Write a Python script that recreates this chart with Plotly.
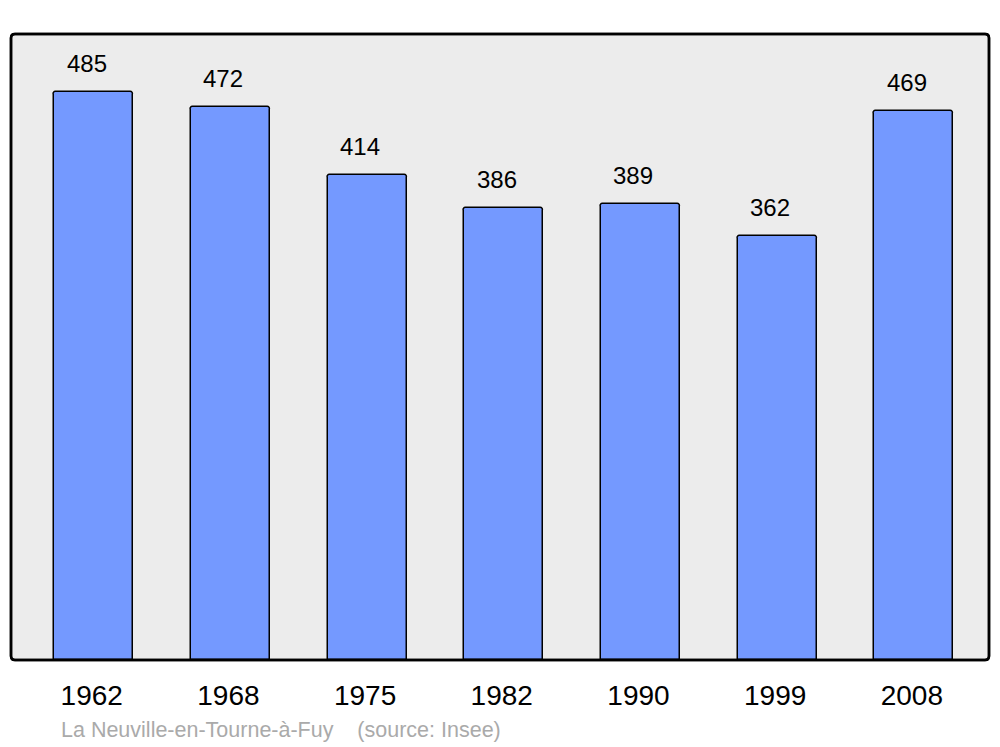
import plotly.graph_objects as go

years = ["1962", "1968", "1975", "1982", "1990", "1999", "2008"]
population = [485, 472, 414, 386, 389, 362, 469]
source_text = "La Neuville-en-Tourne-à-Fuy    (source: Insee)"

W, H = 1000, 747
ml, mr, mt, mb = 11, 11, 34, 87
pw, ph = W - ml - mr, H - mt - mb

xs = list(range(len(years)))

fig = go.Figure()
fig.add_trace(go.Bar(
    x=xs, y=population, width=0.578,
    marker=dict(color="#7499ff", line=dict(color="black", width=1.5), cornerradius=3),
    hoverinfo="skip",
))

for x, v in zip(xs, population):
    fig.add_annotation(x=x, y=v, text=str(v), showarrow=False, yanchor="bottom",
                       yshift=13, xshift=-7,
                       font=dict(size=24, color="black",
                                 family="Liberation Sans, Arial, sans-serif"))

fig.add_annotation(x=(59 - ml) / pw, y=(mt + ph - 730) / ph, xref="paper", yref="paper",
                   text=source_text.replace("    ", "&nbsp;&nbsp;&nbsp;&nbsp;"),
                   showarrow=False, xanchor="left", yanchor="middle",
                   font=dict(size=21.5, color="#aaaaaa",
                             family="Liberation Sans, Arial, sans-serif"))

# rounded plot-area frame
rx, ry = 4 / pw, 4 / ph
path = (f"M {rx},0 L {1-rx},0 Q 1,0 1,{ry} L 1,{1-ry} Q 1,1 {1-rx},1 "
        f"L {rx},1 Q 0,1 0,{1-ry} L 0,{ry} Q 0,0 {rx},0 Z")
fig.add_shape(type="path", path=path, xref="paper", yref="paper",
              fillcolor="#ececec", line=dict(color="black", width=2.5), layer="below")
fig.add_shape(type="path", path=path, xref="paper", yref="paper",
              fillcolor="rgba(0,0,0,0)", line=dict(color="black", width=2.5), layer="above")

fig.update_layout(
    width=W, height=H,
    margin=dict(l=ml, r=mr, t=mt, b=mb),
    paper_bgcolor="white", plot_bgcolor="rgba(0,0,0,0)",
    showlegend=False, bargap=0,
    font=dict(family="Liberation Sans, Arial, sans-serif", color="black"),
)
fig.update_xaxes(range=[-0.605, 6.55], tickmode="array", tickvals=xs, ticktext=years,
                 showgrid=False, zeroline=False, showline=False,
                 ticks="outside", ticklen=10, tickcolor="rgba(0,0,0,0)",
                 ticklabelshift=-2,
                 tickfont=dict(size=28, color="black"))
fig.update_yaxes(range=[0, 534.5], showgrid=False, zeroline=False, showline=False,
                 showticklabels=False)

fig.write_html("out.html", config={"displayModeBar": False},
               post_script="document.body.style.margin='0';document.body.style.overflow='hidden';")
